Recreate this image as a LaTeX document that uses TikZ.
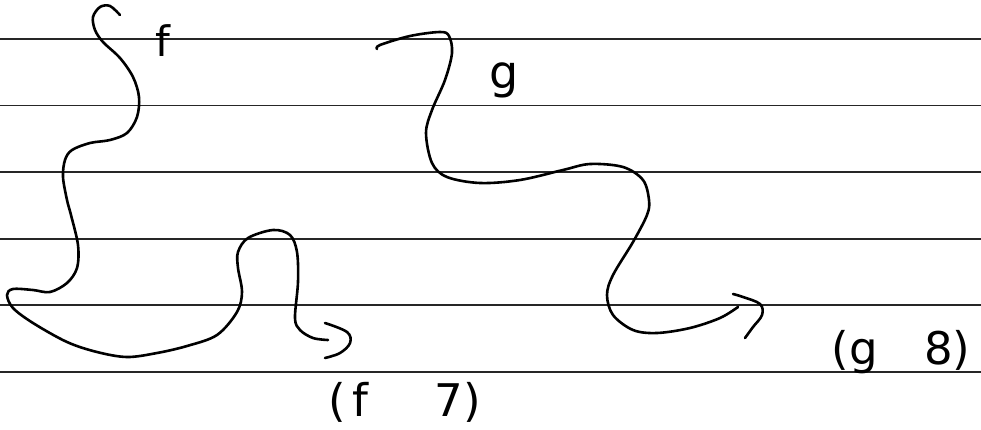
\documentclass[tikz,border=0pt]{standalone}
\usepackage{fontspec}
\setmainfont{DejaVu Sans}
\begin{document}
\begin{tikzpicture}[x=1pt,y=-1pt,
  rule/.style={draw=black!85,line width=1.1pt},
  stroke/.style={draw=black,line width=2.6pt,line cap=round,line join=round},
  hand/.style={font=\fontsize{45}{50}\selectfont,inner sep=0pt}]
\useasboundingbox (0,0) rectangle (981,429);
\fill[white] (0,0) rectangle (981,429);
% ruled lines
\foreach \yy in {39,105.5,172,239,305,372}
  \draw[rule] (0,\yy) -- (981,\yy);
% curve f
\draw[stroke] plot[smooth,tension=0.55] coordinates {
 (120,15) (110,6) (100,7) (93,17) (95,30) (103,42) (120,58) (133,77) (139,97)
 (137,117) (127,133) (110,140) (90,143) (72,150) (65,160) (63,177) (67,200)
 (71,215) (78,245) (77,268) (67,283) (50,292) (33,290) (13,289) (7,295)
 (13,308) (33,323) (67,342) (97,352) (127,357) (157,353) (187,346) (217,335) (237,312)
 (242,292) (238,268) (238,252) (248,238) (273,230) (290,235) (297,252)
 (298,282) (295,318) (300,330) (313,338) (328,340)};
\draw[stroke] plot[smooth,tension=0.6] coordinates {
 (325,323) (347,332) (350,343) (340,353) (325,358)};
% curve g
\draw[stroke] plot[smooth,tension=0.55] coordinates {
 (377,49) (380,45) (410,36) (440,32) (449,36) (452,53) (445,80) (432,110)
 (426,133) (432,163) (447,177) (480,183) (520,180) (563,170) (590,164)
 (623,167) (643,180) (649,200) (647,215) (633,242) (613,275) (607,295)
 (613,315) (633,330) (657,333) (690,328) (720,318) (738,307)};
\draw[stroke] plot[smooth,tension=0.6] coordinates {
 (733,294) (743,297) (760,304) (762,315) (753,327) (745,338)};
% labels
\node[font=\fontsize{42}{46}\selectfont,inner sep=0pt,anchor=base] (lf) at (163,56) {f};
\node[font=\fontsize{46}{50}\selectfont,inner sep=0pt,anchor=base] (lg) at (504,88) {g};
\node[hand,anchor=base west] (lf7) at (328,416) {(\hspace{7pt}f\hspace{66pt}7)};
\node[hand,anchor=base west] (lg8) at (831,364) {(\hspace{1pt}g\hspace{46pt}8)};
\end{tikzpicture}
\end{document}
